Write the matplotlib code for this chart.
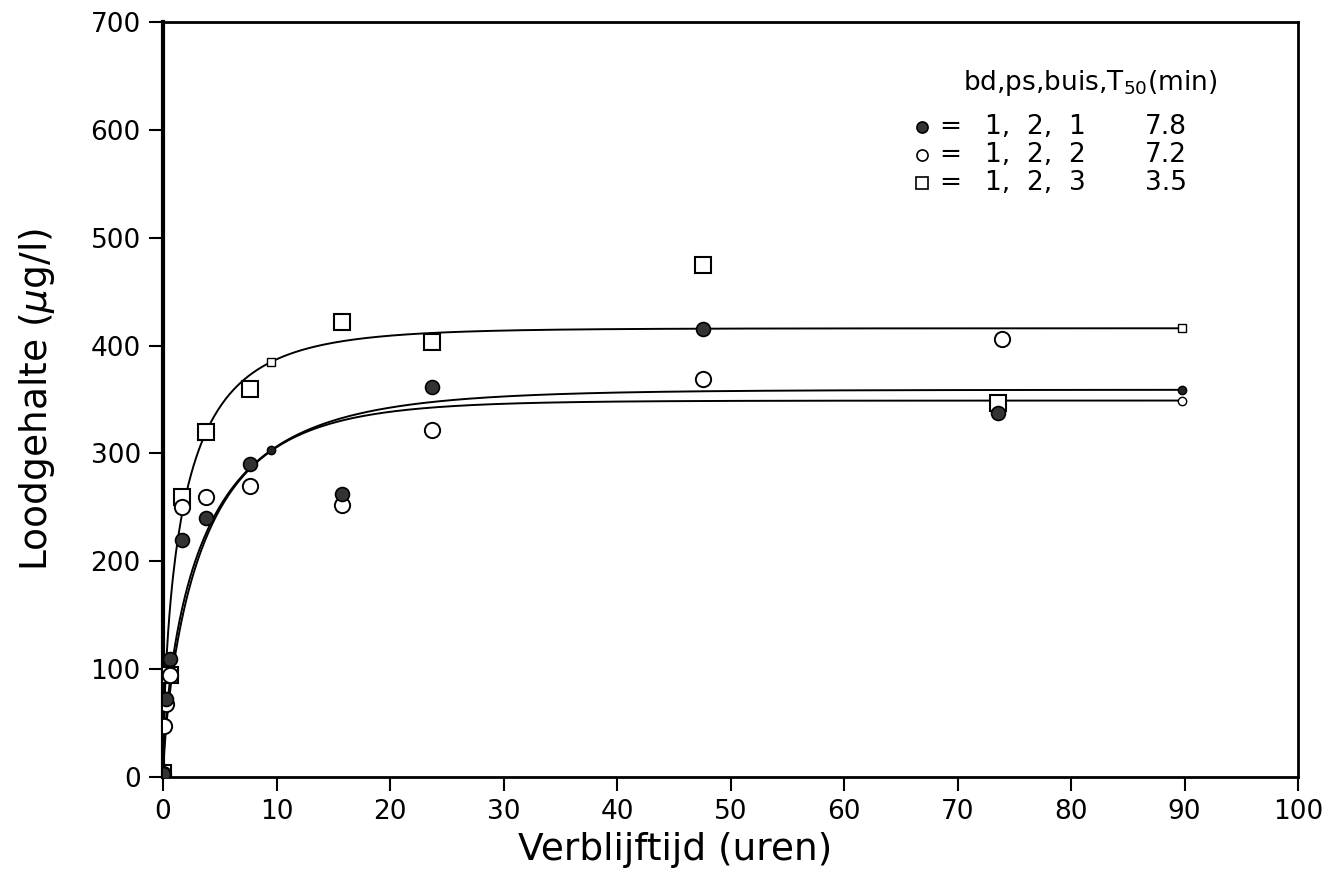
import numpy as np
import matplotlib
matplotlib.use("Agg")
import matplotlib.pyplot as plt

plt.rcParams['font.family'] = ['DejaVu Sans']

# Measured lead content per series (time in hours, concentration in ug/l)
filled_t = [0, 0.25, 0.6, 1.7, 3.8, 7.7, 15.8, 23.7, 47.6, 73.6]
filled_y = [3, 72, 109, 220, 240, 290, 262, 362, 415, 337]

open_t = [0, 0.1, 0.25, 0.6, 1.7, 3.8, 7.7, 15.8, 23.7, 47.6, 73.9]
open_y = [3, 47, 68, 95, 250, 260, 270, 252, 322, 369, 406]

square_t = [0, 0.6, 1.7, 3.8, 7.7, 15.8, 23.7, 47.6, 73.6]
square_y = [4, 95, 260, 320, 360, 422, 403, 475, 347]

# Fitted saturation curves: y = A * (1 - exp(-(t/tau)**beta))
fit_filled = dict(A=359, tau=3.83, beta=0.68)
fit_open = dict(A=349, tau=3.75, beta=0.75)
fit_square = dict(A=416, tau=2.05, beta=0.62)
fit_t_end = 89.8
fit_mark_t = [9.5, 89.8]

legend_header = r"bd,ps,buis,T$_{50}$(min)"
legend_rows = [("1,  2,  1", "7.8"), ("1,  2,  2", "7.2"), ("1,  2,  3", "3.5")]

x_ticks = list(range(0, 101, 10))
y_ticks = list(range(0, 701, 100))


def saturation(t, A, tau, beta):
    t = np.asarray(t, dtype=float)
    return A * (1 - np.exp(-(t / tau) ** beta))


fig = plt.figure(figsize=(13.43, 8.77), dpi=100)
ax = fig.add_axes([0.1214, 0.114, 0.8451, 0.861])

tt = np.linspace(0, fit_t_end, 800)
for fit in (fit_filled, fit_open, fit_square):
    ax.plot(tt, saturation(tt, **fit), color='black', lw=1.4, zorder=2)

# small markers on the fitted curves
ax.plot(fit_mark_t, saturation(fit_mark_t, **fit_square), ls='none', marker='s',
        ms=6, mfc='white', mec='black', mew=1.0, zorder=3)
ax.plot(fit_mark_t, saturation(fit_mark_t, **fit_filled), ls='none', marker='o',
        ms=6, mfc='#222222', mec='black', mew=1.0, zorder=3)
ax.plot(fit_mark_t[1:], saturation(fit_mark_t[1:], **fit_open), ls='none', marker='o',
        ms=6, mfc='white', mec='black', mew=1.0, zorder=3)

# data points
ax.plot(square_t, square_y, ls='none', marker='s', ms=12, mfc='white',
        mec='black', mew=1.5, zorder=4)
ax.plot(open_t, open_y, ls='none', marker='o', ms=11, mfc='white',
        mec='black', mew=1.4, zorder=4)
ax.plot(filled_t, filled_y, ls='none', marker='o', ms=10, mfc='#333333',
        mec='black', mew=1.2, zorder=5)

ax.set_xlim(0, 100)
ax.set_ylim(0, 700)
ax.set_xticks(x_ticks)
ax.set_yticks(y_ticks)
ax.tick_params(direction='out', length=10, width=1.5, labelsize=19, pad=6,
               top=False, right=False)
for side in ('bottom', 'top', 'right'):
    ax.spines[side].set_linewidth(2.0)
ax.spines['left'].set_linewidth(3.0)

ax.set_xlabel('Verblijftijd (uren)', fontsize=27, va='center')
ax.xaxis.set_label_coords(0.451, -0.097)
ax.set_ylabel(r'Loodgehalte ($\mu$g/l)', fontsize=27)
ax.yaxis.set_label_coords(-0.093, 0.5)

# key in the upper right corner
ax.text(0.705, 0.919, legend_header, transform=ax.transAxes, fontsize=19,
        ha='left', va='center')
row_y = [0.861, 0.824, 0.787]
row_markers = [dict(marker='o', ms=8, mfc='#333333', mec='black'),
               dict(marker='o', ms=8, mfc='white', mec='black'),
               dict(marker='s', ms=8, mfc='white', mec='black')]
for y, (ids, t50), mk in zip(row_y, legend_rows, row_markers):
    ax.plot([0.669], [y], transform=ax.transAxes, ls='none', mew=1.2,
            clip_on=False, **mk)
    ax.text(0.684, y, '=', transform=ax.transAxes, fontsize=19,
            ha='left', va='center')
    ax.text(0.724, y, ids, transform=ax.transAxes, fontsize=19,
            ha='left', va='center')
    ax.text(0.865, y, t50, transform=ax.transAxes, fontsize=19,
            ha='left', va='center')

fig.savefig('out.png', dpi=100, facecolor='white')
